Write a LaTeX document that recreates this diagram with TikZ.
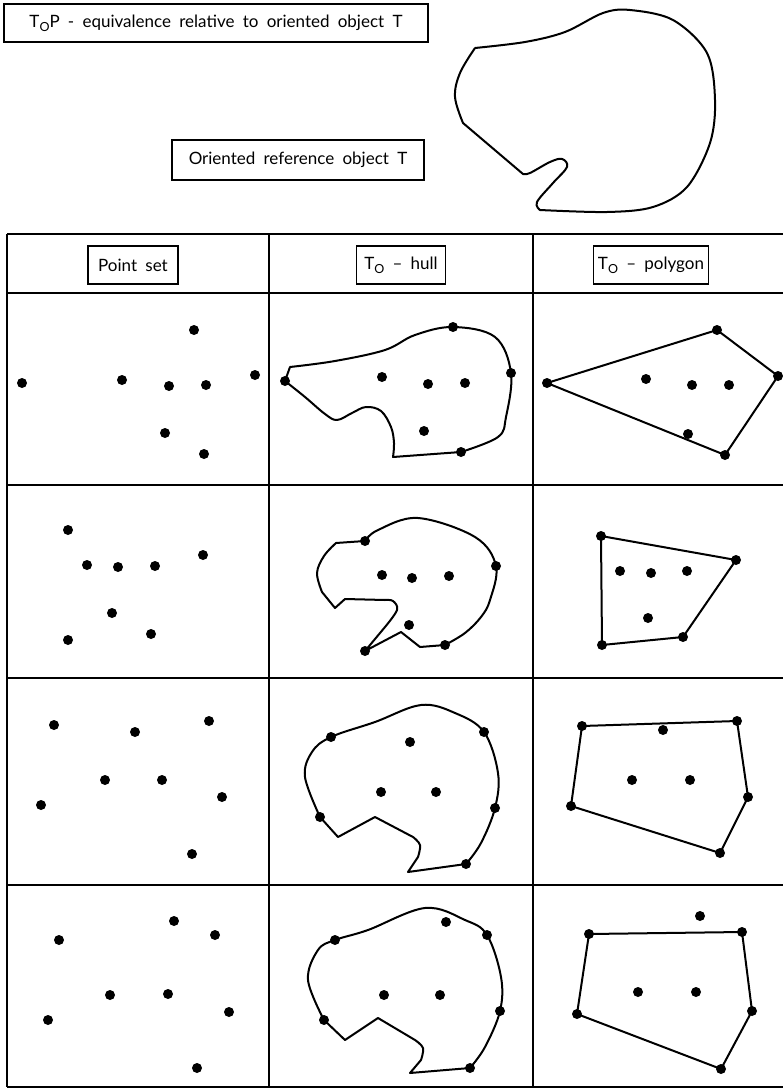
\documentclass[tikz,border=0pt]{standalone}
\usepackage{fontspec}
\setmainfont[WordSpace=1.9]{Lato}
\newcommand{\subO}{\raisebox{-0.45ex}{\fontsize{12.5}{12.5}\selectfont O}}
\begin{document}
\begin{tikzpicture}[x=1pt,y=-1pt,
  labelbox/.style={draw, line width=1.1pt, inner sep=0pt, font=\fontsize{17}{20}\selectfont},
  dotnode/.style={circle, fill=black, inner sep=0pt, minimum size=10pt},
  outline/.style={line width=2pt, line join=round},
  grid/.style={line width=1.5pt}]
\useasboundingbox (0,0) rectangle (783,1089);
% ---- title boxes
\node[labelbox, minimum width=424, minimum height=38] (title) at (216,23) {T\subO P - equivalence relative to oriented object T};
\node[labelbox, minimum width=252, minimum height=40] (reftitle) at (298,160) {Oriented reference object T};
% ---- reference object T
\draw[outline] plot[smooth, tension=0.55] coordinates {(475,48) (525,42) (565,32) (603,13) (630,10) (673,20) (707,53) (715,100) (710,143) (687,187) (653,207) (607,212) (540,210)}
  -- plot[smooth, tension=0.6] coordinates {(540,210) (537,202) (553,183) (567,167) (562,159) (550,162) (530,173) (523,174)}
  -- plot[smooth, tension=0.6] coordinates {(463,123) (455,97) (460,73) (475,48)};
% ---- table grid
\foreach \yy in {234,293,485,678,885,1087} \draw[grid] (7,\yy) -- (790,\yy);
\foreach \xx in {7,269,533} \draw[grid] (\xx,234) -- (\xx,1087);
% ---- headers
\node[labelbox, minimum width=90, minimum height=38] (h1) at (133,265) {Point set};
\node[labelbox, minimum width=89, minimum height=38] (h2) at (401,265) {T\subO{} -- hull};
\node[labelbox, minimum width=115, minimum height=38] (h3) at (651,265) {T\subO{} -- polygon};
% ================= ROW 1
\foreach \n/\p in {a/{22,383},b/{122,380},c/{169,386},d/{206,385},e/{255,375},f/{194,330},g/{165,433},h/{204,454}}
  \node[dotnode] (r1p\n) at (\p) {};
\foreach \n/\p in {a/{285,381},b/{453,327},c/{511,373},d/{382,377},e/{428,384},f/{465,383},g/{424,431},h/{461,452}}
  \node[dotnode] (r1h\n) at (\p) {};
\draw[outline] (285,381) -- plot[smooth, tension=0.6] coordinates {(290,367) (335,361) (385,350) (415,335) (453,327) (495,337) (511,373) (506,417) (498,437) (461,452)}
  -- plot[smooth, tension=0.6] coordinates {(393,457) (394,443) (391,427) (381,411) (366,407) (352,413) (337,420) (325,414) (305,397) (285,381)};
\foreach \n/\p in {a/{547,383},b/{717,330},c/{778,376},d/{725,455},e/{688,434},f/{646,379},g/{692,385},h/{729,385}}
  \node[dotnode] (r1q\n) at (\p) {};
\draw[outline] (r1qa.center) -- (r1qb.center) -- (r1qc.center) -- (r1qd.center) -- cycle;
% ================= ROW 2
\foreach \n/\p in {a/{68,530},b/{87,565},c/{118,567},d/{155,566},e/{203,555},f/{112,613},g/{68,640},h/{151,634}}
  \node[dotnode] (r2p\n) at (\p) {};
\foreach \n/\p in {a/{365,541},b/{496,566},c/{382,575},d/{412,578},e/{449,576},f/{409,625},g/{365,651},h/{445,645}}
  \node[dotnode] (r2h\n) at (\p) {};
\draw[outline] plot[smooth, tension=0.6] coordinates {(365,541) (378,530) (418,518) (475,537) (496,566) (490,600) (481,617) (465,633) (445,645)}
  -- (420,647) -- (401,632) -- (365,651)
  -- plot[smooth, tension=0.6] coordinates {(385,627) (397,610) (393,601) (385,600)}
  -- (345,599) -- (335,608)
  -- plot[smooth, tension=0.6] coordinates {(322,592) (317,573) (324,556) (336,543)} -- cycle;
\foreach \n/\p in {a/{601,536},b/{736,560},c/{620,571},d/{651,573},e/{687,571},f/{648,618},g/{602,645},h/{683,637}}
  \node[dotnode] (r2q\n) at (\p) {};
\draw[outline] (r2qa.center) -- (r2qb.center) -- (r2qh.center) -- (r2qg.center) -- cycle;
% ================= ROW 3
\foreach \n/\p in {a/{54,725},b/{135,732},c/{209,721},d/{105,780},e/{162,780},f/{41,805},g/{222,797},h/{192,854}}
  \node[dotnode] (r3p\n) at (\p) {};
\foreach \n/\p in {a/{331,737},b/{410,742},c/{484,732},d/{381,792},e/{436,792},f/{320,817},g/{495,808},h/{466,864}}
  \node[dotnode] (r3h\n) at (\p) {};
\draw[outline] plot[smooth, tension=0.6] coordinates {(320,817) (305,777) (312,752) (331,737) (375,722) (421,705) (455,713) (484,732) (498,773) (495,808) (481,843) (466,864)}
  -- (408,872) -- plot[smooth, tension=0.6] coordinates {(418,857) (420,845) (413,837)}
  -- (375,817) -- (338,837) -- cycle;
\foreach \n/\p in {a/{582,726},b/{737,721},c/{663,730},d/{632,780},e/{690,780},f/{571,806},g/{748,797},h/{720,853}}
  \node[dotnode] (r3q\n) at (\p) {};
\draw[outline] (r3qa.center) -- (r3qb.center) -- (r3qg.center) -- (r3qh.center) -- (r3qf.center) -- cycle;
% ================= ROW 4
\foreach \n/\p in {a/{59,940},b/{174,921},c/{215,935},d/{110,995},e/{168,994},f/{229,1012},g/{48,1020},h/{197,1068}}
  \node[dotnode] (r4p\n) at (\p) {};
\foreach \n/\p in {a/{335,940},b/{446,922},c/{487,935},d/{384,995},e/{440,995},f/{324,1020},g/{500,1011},h/{470,1068}}
  \node[dotnode] (r4h\n) at (\p) {};
\draw[outline] plot[smooth, tension=0.6] coordinates {(324,1020) (308,980) (318,950) (335,940) (368,930) (425,908) (465,920) (487,935) (501,977) (500,1011) (485,1047) (470,1068)}
  -- (410,1073) -- plot[smooth, tension=0.6] coordinates {(421,1060) (423,1048) (415,1040)}
  -- (378,1018) -- (345,1040) -- cycle;
\foreach \n/\p in {a/{700,916},b/{589,934},c/{742,932},d/{638,992},e/{696,992},f/{752,1011},g/{577,1014},h/{721,1069}}
  \node[dotnode] (r4q\n) at (\p) {};
\draw[outline] (r4qb.center) -- (r4qc.center) -- (r4qf.center) -- (r4qh.center) -- (r4qg.center) -- cycle;
\end{tikzpicture}
\end{document}
